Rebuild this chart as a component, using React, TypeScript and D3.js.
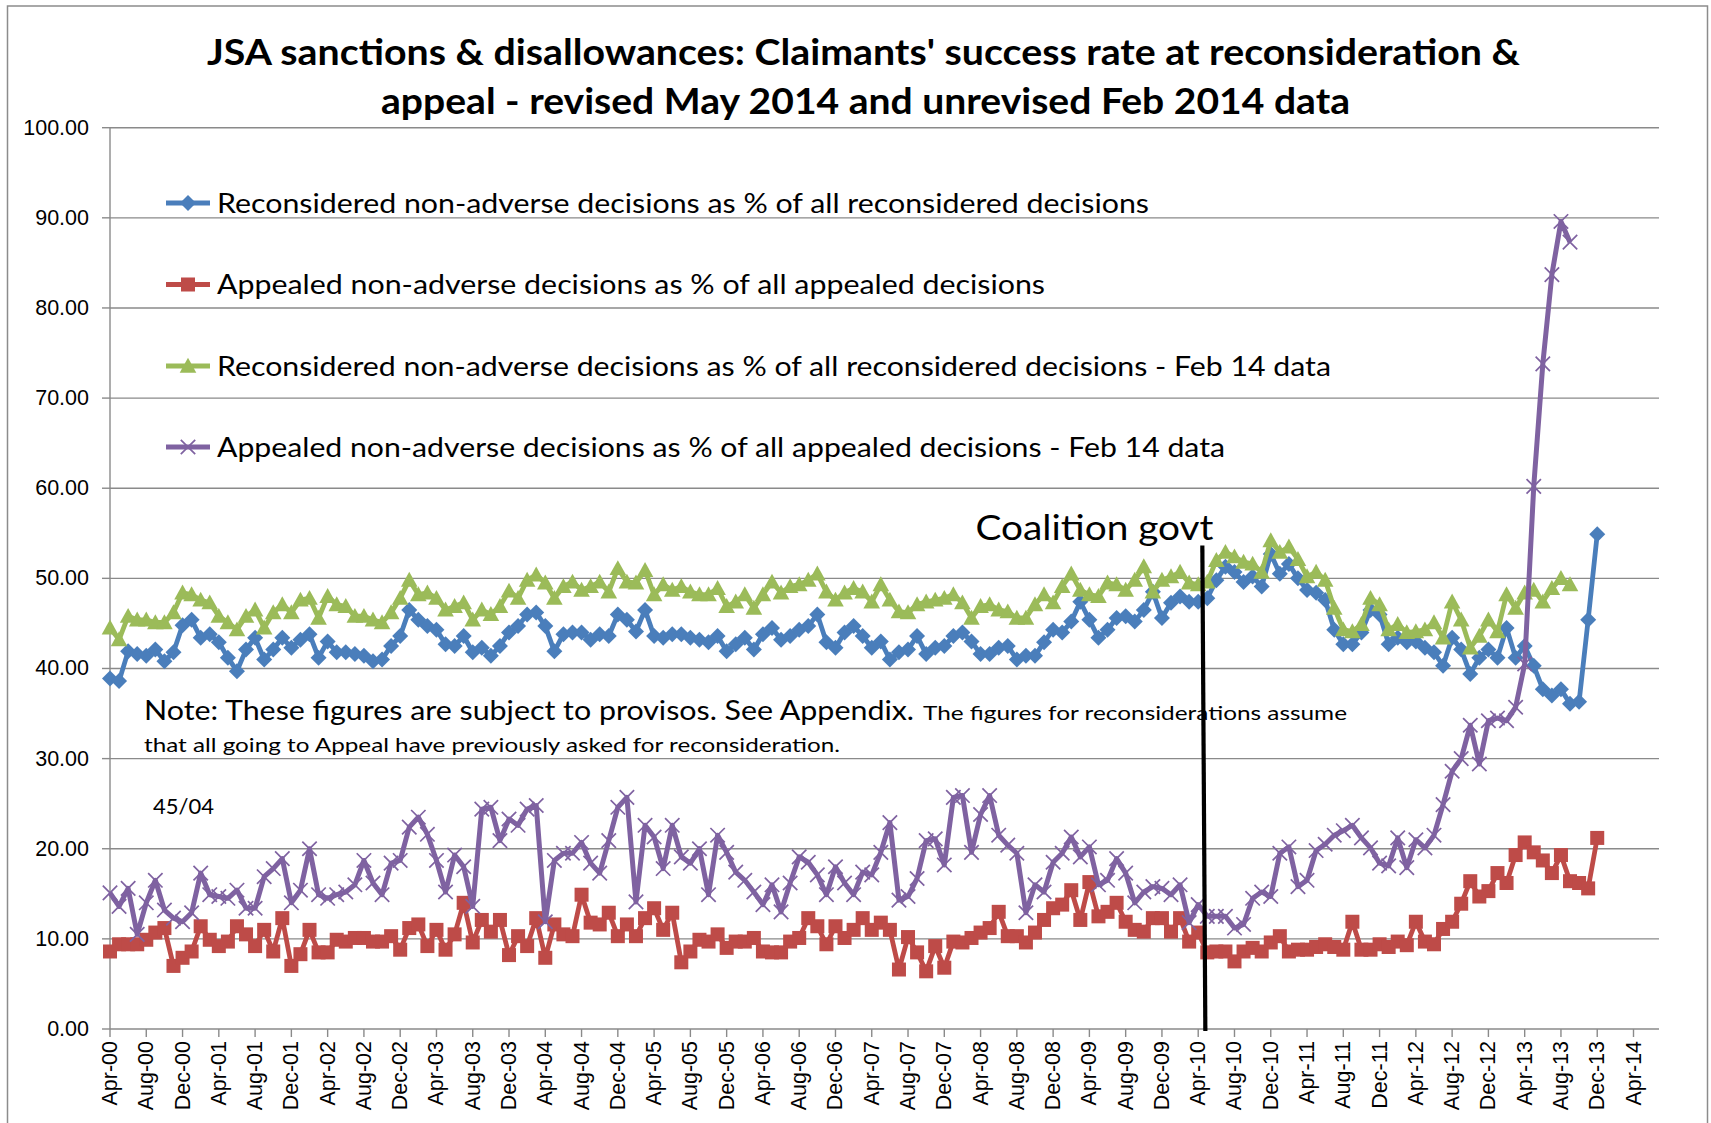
import React from "react";
import * as d3 from "d3";

// ---- Data (monthly, Apr-00 = index 0) ----
const tickLabels = [
  "Apr-00","Aug-00","Dec-00","Apr-01","Aug-01","Dec-01","Apr-02","Aug-02","Dec-02",
  "Apr-03","Aug-03","Dec-03","Apr-04","Aug-04","Dec-04","Apr-05","Aug-05","Dec-05",
  "Apr-06","Aug-06","Dec-06","Apr-07","Aug-07","Dec-07","Apr-08","Aug-08","Dec-08",
  "Apr-09","Aug-09","Dec-09","Apr-10","Aug-10","Dec-10","Apr-11","Aug-11","Dec-11",
  "Apr-12","Aug-12","Dec-12","Apr-13","Aug-13","Dec-13","Apr-14",
];
const yTicks = [0, 10, 20, 30, 40, 50, 60, 70, 80, 90, 100];

const reconRevised = [
  38.9,38.6,41.9,41.6,41.4,42.1,40.8,41.8,44.8,45.4,
  43.4,43.8,42.9,41.2,39.7,42.1,43.4,41.0,42.1,43.4,
  42.3,43.2,43.8,41.2,43.0,41.8,41.8,41.6,41.4,40.8,
  41.0,42.5,43.6,46.5,45.4,44.7,44.3,42.7,42.5,43.6,
  41.8,42.3,41.4,42.5,44.0,44.7,46.0,46.2,44.7,41.9,
  43.8,44.0,44.0,43.2,43.8,43.6,46.0,45.4,44.1,46.5,
  43.6,43.4,43.8,43.8,43.4,43.2,42.9,43.6,41.9,42.7,
  43.4,42.1,43.8,44.5,43.2,43.6,44.3,44.7,46.0,42.9,
  42.3,44.0,44.7,43.6,42.3,43.0,41.0,41.8,42.1,43.6,
  41.6,42.3,42.5,43.6,44.0,43.0,41.6,41.6,42.3,42.5,
  41.0,41.4,41.4,42.9,44.3,44.0,45.2,47.4,45.4,43.4,
  44.3,45.6,45.8,45.2,46.5,48.5,45.6,47.3,48.0,47.4,
  47.4,47.8,49.8,51.3,50.7,49.6,50.2,49.1,52.7,50.5,
  51.6,50.0,48.7,48.4,47.6,44.3,42.7,42.7,44.0,46.5,
  46.0,42.7,43.4,42.9,43.0,42.3,41.8,40.3,43.4,42.1,
  39.4,41.2,42.1,41.2,44.5,41.2,42.5,40.3,37.7,37.0,
  37.7,36.1,36.3,45.4,54.9,
];

const appealRevised = [
  8.6,9.4,9.4,9.4,9.9,10.7,11.2,7.0,7.9,8.6,
  11.4,9.9,9.2,9.7,11.4,10.5,9.2,11.0,8.6,12.3,
  7.0,8.3,11.0,8.5,8.5,9.9,9.7,10.1,10.1,9.7,
  9.7,10.3,8.8,11.2,11.6,9.2,11.0,8.8,10.5,14.0,
  9.6,12.1,10.8,12.1,8.2,10.3,9.2,12.3,7.9,11.6,
  10.5,10.3,14.9,11.8,11.6,12.9,10.3,11.6,10.3,12.3,
  13.4,11.0,12.9,7.4,8.6,9.9,9.7,10.5,9.0,9.7,
  9.7,10.1,8.6,8.5,8.5,9.7,10.1,12.3,11.4,9.4,
  11.4,10.1,11.0,12.3,11.0,11.8,11.0,6.6,10.2,8.5,
  6.4,9.2,6.8,9.7,9.6,10.1,10.7,11.2,13.0,10.3,
  10.3,9.6,10.7,12.1,13.4,13.8,15.4,12.1,16.3,12.5,
  13.0,14.0,11.9,11.0,10.8,12.3,12.3,10.8,12.3,9.7,
  10.7,8.5,8.6,8.6,7.5,8.6,9.0,8.6,9.6,10.3,
  8.6,8.8,8.8,9.1,9.4,9.1,8.8,11.9,8.8,8.8,
  9.4,9.1,9.7,9.3,11.9,9.7,9.4,11.1,11.9,13.9,
  16.4,14.7,15.3,17.3,16.2,19.3,20.7,19.6,18.7,17.3,
  19.3,16.4,16.2,15.6,21.2,
];

const reconFeb14 = [
  44.5,43.2,45.8,45.4,45.4,45.1,45.1,46.2,48.4,48.2,
  47.6,47.3,45.8,45.1,44.3,45.8,46.5,44.5,46.2,47.1,
  46.2,47.6,47.8,45.6,48.0,47.1,46.9,45.8,45.8,45.4,
  45.1,46.2,47.8,49.8,48.2,48.4,47.8,46.5,46.9,47.3,
  45.4,46.5,46.0,46.9,48.6,47.8,49.8,50.4,49.5,47.8,
  49.1,49.6,48.7,49.1,49.6,48.5,51.1,49.6,49.5,50.9,
  48.2,49.3,48.7,49.1,48.5,48.2,48.2,48.9,46.9,47.4,
  48.2,46.7,48.2,49.6,48.4,49.1,49.3,49.8,50.5,48.5,
  47.6,48.4,48.9,48.5,47.4,49.3,47.6,46.3,46.2,47.1,
  47.4,47.6,47.8,48.2,47.3,45.6,46.9,47.1,46.5,46.3,
  45.6,45.6,47.1,48.2,47.3,49.1,50.5,48.7,48.2,48.0,
  49.5,49.3,48.7,49.8,51.3,48.5,49.8,50.2,50.7,49.5,
  49.3,49.6,52.0,52.9,52.4,51.8,51.6,50.7,54.2,52.9,
  53.5,52.1,50.2,50.7,49.8,46.7,44.3,44.1,44.9,47.8,
  47.1,44.3,44.9,44.0,44.1,44.3,45.1,43.4,47.4,45.4,
  42.3,43.6,45.4,44.1,48.2,46.7,48.4,48.7,47.4,48.9,
  50.0,49.3,
];

const appealFeb14 = [
  15.1,13.6,15.6,10.5,14.0,16.5,13.2,12.3,11.9,12.9,
  17.3,14.9,14.7,14.5,15.4,13.4,13.4,16.9,17.8,18.9,
  14.0,15.4,20.0,14.9,14.5,14.9,15.2,16.0,18.7,16.2,
  14.9,18.4,18.7,22.4,23.5,21.6,18.7,15.2,19.3,18.0,
  13.6,24.4,24.6,20.9,23.3,22.6,24.4,24.8,11.9,18.7,
  19.5,19.5,20.7,18.4,17.3,20.9,24.6,25.7,14.1,22.6,
  21.3,17.8,22.6,19.1,18.4,20.0,14.9,21.5,19.6,17.4,
  16.5,15.2,13.8,16.0,13.0,16.2,19.1,18.5,17.1,14.9,
  18.0,16.2,14.9,17.4,17.1,19.6,22.9,14.3,14.7,16.7,
  20.9,21.1,18.2,25.7,25.9,19.6,23.8,25.9,21.5,20.4,
  19.5,12.9,16.0,15.2,18.5,19.5,21.3,19.1,20.2,16.0,
  16.5,18.9,17.3,14.0,15.2,15.8,15.6,14.9,16.0,11.8,
  13.8,12.5,12.5,12.5,11.2,11.6,14.5,15.2,14.7,19.5,
  20.2,15.8,16.5,19.8,20.5,21.5,22.0,22.6,21.2,20.1,
  18.4,18.1,21.2,17.9,21.0,20.1,21.5,24.9,28.6,30.0,
  33.7,29.4,34.2,34.5,34.2,35.7,40.5,60.2,73.8,83.7,
  89.6,87.3,
];

const seriesNames = [
  "Reconsidered non-adverse decisions as % of all reconsidered decisions",
  "Appealed non-adverse decisions as % of all appealed decisions",
  "Reconsidered non-adverse decisions as % of all reconsidered decisions - Feb 14 data",
  "Appealed non-adverse decisions as % of all appealed decisions - Feb 14 data",
];
const coalitionMonth = 120.4; // Apr-10

// ---- Layout ----
const W = 1711;
const H = 1123;
const X0 = 110;
const X_APR14 = 1633.5;
const PLOT_RIGHT = 1659;
const Y0 = 1029;
const Y100 = 127.7;

const BLUE = "#4A7EBB";
const RED = "#BE4B48";
const GREEN = "#9BBB59";
const PURPLE = "#7F62A1";
const GRID = "#8A8A8A";
const TXT = "Lato, 'Open Sans', sans-serif";
const AXF = "'Liberation Sans', Arial, sans-serif";

type MarkerKind = "diamond" | "square" | "triangle" | "x";

function Marker({ kind, cx, cy, color }: { kind: MarkerKind; cx: number; cy: number; color: string }) {
  if (kind === "diamond") {
    const s = 8;
    return <path d={`M${cx},${cy - s}L${cx + s},${cy}L${cx},${cy + s}L${cx - s},${cy}Z`} fill={color} />;
  }
  if (kind === "square") {
    const s = 7;
    return <rect x={cx - s} y={cy - s} width={2 * s} height={2 * s} fill={color} />;
  }
  if (kind === "triangle") {
    const s = 8.3;
    return <path d={`M${cx},${cy - s}L${cx + s},${cy + s * 0.8}L${cx - s},${cy + s * 0.8}Z`} fill={color} />;
  }
  const s = 7.2;
  return (
    <path
      d={`M${cx - s},${cy - s}L${cx + s},${cy + s}M${cx - s},${cy + s}L${cx + s},${cy - s}`}
      stroke={color}
      strokeWidth={1.7}
      fill="none"
    />
  );
}

export default function App() {
  const x = d3.scaleLinear().domain([0, 168]).range([X0, X_APR14]);
  const y = d3.scaleLinear().domain([0, 100]).range([Y0, Y100]);
  const line = d3
    .line<number>()
    .x((_, i) => x(i))
    .y((d) => y(d));

  const series: { data: number[]; color: string; kind: MarkerKind; width: number }[] = [
    { data: reconRevised, color: BLUE, kind: "diamond", width: 4.8 },
    { data: appealRevised, color: RED, kind: "square", width: 4.8 },
    { data: reconFeb14, color: GREEN, kind: "triangle", width: 4.8 },
    { data: appealFeb14, color: PURPLE, kind: "x", width: 5 },
  ];

  const legendY = [203, 284.5, 366, 447];
  const legendLen = [932, 828, 1114, 1008];

  return (
    <svg
      width={W}
      height={H}
      viewBox={`0 0 ${W} ${H}`}
      style={{ position: "absolute", left: 0, top: 0, background: "#fff" }}
    >
      <rect x={0} y={0} width={W} height={H} fill="#fff" />
      <rect x={7.5} y={6} width={1700} height={1140} fill="none" stroke="#8c8c8c" strokeWidth={1.5} />

      {/* Title */}
      <text x={863.5} y={65} textAnchor="middle" fontFamily={TXT} fontWeight={700} fontSize={37}
        textLength={1313} lengthAdjust="spacingAndGlyphs" fill="#000">
        JSA sanctions &amp; disallowances: Claimants' success rate at reconsideration &amp;
      </text>
      <text x={865.5} y={113.5} textAnchor="middle" fontFamily={TXT} fontWeight={700} fontSize={37}
        textLength={969} lengthAdjust="spacingAndGlyphs" fill="#000">
        appeal - revised May 2014 and unrevised Feb 2014 data
      </text>

      {/* Gridlines */}
      {yTicks.filter((t) => t > 0).map((t) => (
        <line key={`g${t}`} x1={X0} x2={PLOT_RIGHT} y1={y(t)} y2={y(t)} stroke={GRID} strokeWidth={1.4} />
      ))}
      {/* Axes */}
      <line x1={X0} x2={X0} y1={Y100} y2={Y0} stroke={GRID} strokeWidth={1.4} />
      <line x1={X0} x2={PLOT_RIGHT} y1={Y0} y2={Y0} stroke={GRID} strokeWidth={1.4} />
      {yTicks.map((t) => (
        <g key={`yt${t}`}>
          <line x1={X0 - 8} x2={X0} y1={y(t)} y2={y(t)} stroke={GRID} strokeWidth={1.4} />
          <text x={89} y={y(t)} textAnchor="end" dominantBaseline="central"
            fontFamily={AXF} fontSize={21.5} fill="#000">
            {t.toFixed(2)}
          </text>
        </g>
      ))}
      {tickLabels.map((lab, k) => {
        const xv = x(k * 4);
        return (
          <g key={lab}>
            <line x1={xv} x2={xv} y1={Y0} y2={Y0 + 8} stroke={GRID} strokeWidth={1.4} />
            <text
              transform={`translate(${xv},${Y0 + 12}) rotate(-90)`}
              textAnchor="end"
              dominantBaseline="central"
              fontFamily={AXF}
              fontSize={21.5}
              fill="#000"
            >
              {lab}
            </text>
          </g>
        );
      })}

      {/* Series */}
      {series.map((s, si) => (
        <g key={`s${si}`}>
          <path d={line(s.data) || ""} fill="none" stroke={s.color} strokeWidth={s.width} strokeLinejoin="round" />
          {s.data.map((v, i) => (
            <Marker key={i} kind={s.kind} cx={x(i)} cy={y(v)} color={s.color} />
          ))}
        </g>
      ))}

      {/* Legend */}
      {series.map((s, si) => (
        <g key={`l${si}`}>
          <line x1={166} x2={210} y1={legendY[si]} y2={legendY[si]} stroke={s.color} strokeWidth={s.width} />
          <Marker kind={s.kind} cx={188} cy={legendY[si]} color={s.color} />
          <text x={217} y={legendY[si] + 9.5} fontFamily={TXT} fontSize={26} fill="#000"
            textLength={legendLen[si]} lengthAdjust="spacingAndGlyphs">
            {seriesNames[si]}
          </text>
        </g>
      ))}

      {/* Notes */}
      <text x={144} y={720} fontFamily={TXT} fontSize={26} fill="#000" textLength={770} lengthAdjust="spacingAndGlyphs">
        Note: These figures are subject to provisos. See Appendix.
      </text>
      <text x={923} y={720} fontFamily={TXT} fontSize={20} fill="#000" textLength={424} lengthAdjust="spacingAndGlyphs">
        The figures for reconsiderations assume
      </text>
      <text x={144} y={752} fontFamily={TXT} fontSize={20} fill="#000" textLength={696} lengthAdjust="spacingAndGlyphs">
        that all going to Appeal have previously asked for reconsideration.
      </text>
      <text x={153} y={814} fontFamily={TXT} fontSize={20.5} fill="#000" textLength={61} lengthAdjust="spacingAndGlyphs">
        45/04
      </text>

      {/* Coalition govt marker */}
      <line x1={x(coalitionMonth) + 0.5} y1={545.5} x2={x(coalitionMonth) + 3.5} y2={Y0 + 2} stroke="#000" strokeWidth={4.2} />
      <text x={975.5} y={540} fontFamily={TXT} fontSize={34} fill="#000" textLength={238} lengthAdjust="spacingAndGlyphs">
        Coalition govt
      </text>
    </svg>
  );
}
